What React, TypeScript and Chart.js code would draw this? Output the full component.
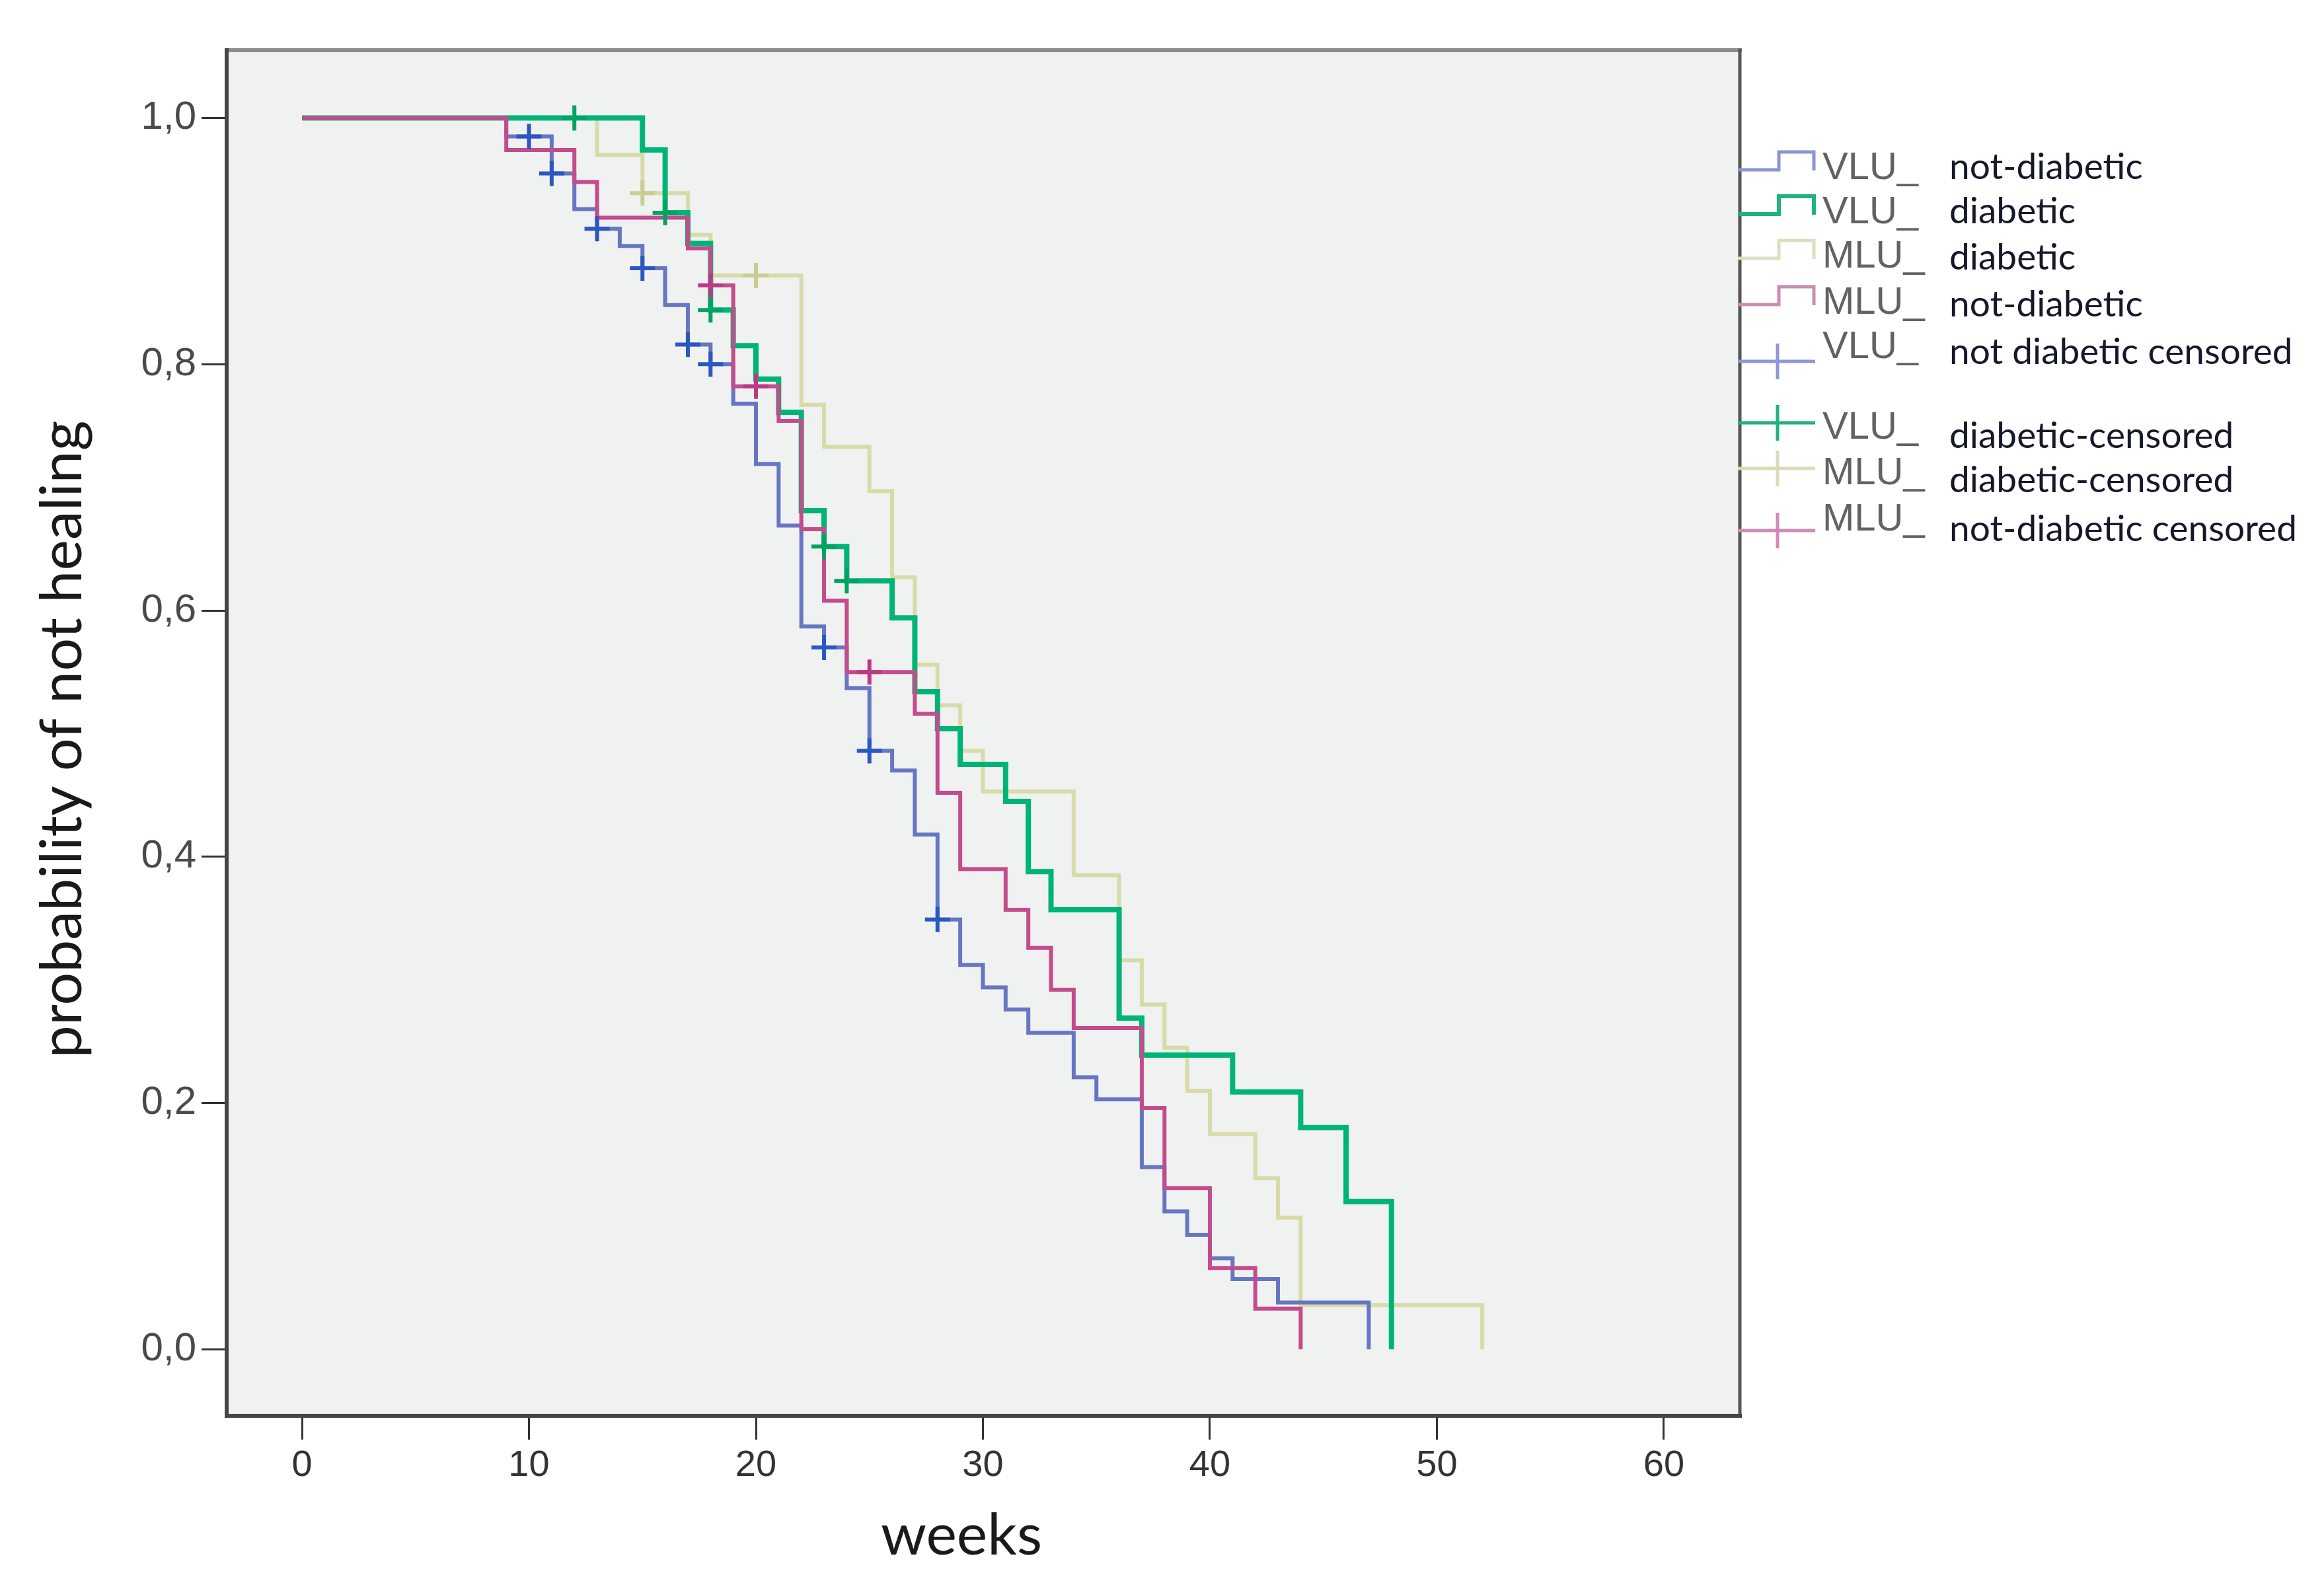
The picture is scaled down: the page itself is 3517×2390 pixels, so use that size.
import { useEffect, useRef } from "react";
import { Chart, registerables } from "chart.js";

Chart.register(...registerables);

// ---------- data ----------
const vluNotDiabeticWeeks = [0, 9, 11, 12, 13, 14, 15, 16, 17, 18, 19, 20, 21, 22, 23, 24, 25, 26, 27, 28, 29, 30, 31, 32, 34, 35, 37, 38, 39, 40, 41, 43, 47];
const vluNotDiabeticSurv = [1.0, 0.985, 0.955, 0.926, 0.91, 0.896, 0.878, 0.848, 0.816, 0.8, 0.768, 0.719, 0.669, 0.587, 0.57, 0.537, 0.486, 0.47, 0.418, 0.349, 0.312, 0.294, 0.276, 0.257, 0.221, 0.203, 0.148, 0.112, 0.093, 0.074, 0.057, 0.038, 0.0];
const vluNotDiabeticCensorWeeks = [10, 11, 13, 15, 17, 18, 23, 25, 28];
const vluNotDiabeticCensorSurv = [0.985, 0.955, 0.91, 0.878, 0.816, 0.8, 0.57, 0.486, 0.349];

const vluDiabeticWeeks = [0, 15, 16, 17, 18, 19, 20, 21, 22, 23, 24, 26, 27, 28, 29, 31, 32, 33, 36, 37, 41, 44, 46, 48];
const vluDiabeticSurv = [1.0, 0.974, 0.923, 0.898, 0.844, 0.815, 0.788, 0.761, 0.681, 0.652, 0.624, 0.594, 0.534, 0.504, 0.475, 0.445, 0.388, 0.357, 0.269, 0.239, 0.209, 0.18, 0.12, 0.0];
const vluDiabeticCensorWeeks = [12, 16, 18, 23, 24];
const vluDiabeticCensorSurv = [1.0, 0.923, 0.844, 0.652, 0.624];

const mluDiabeticWeeks = [0, 13, 15, 17, 18, 22, 23, 25, 26, 27, 28, 29, 30, 34, 36, 37, 38, 39, 40, 42, 43, 44, 52];
const mluDiabeticSurv = [1.0, 0.97, 0.939, 0.905, 0.872, 0.767, 0.733, 0.697, 0.627, 0.556, 0.523, 0.486, 0.453, 0.385, 0.316, 0.28, 0.245, 0.21, 0.175, 0.139, 0.107, 0.036, 0.0];
const mluDiabeticCensorWeeks = [15, 20];
const mluDiabeticCensorSurv = [0.939, 0.872];

const mluNotDiabeticWeeks = [0, 9, 12, 13, 17, 18, 19, 21, 22, 23, 24, 27, 28, 29, 31, 32, 33, 34, 37, 38, 40, 42, 44];
const mluNotDiabeticSurv = [1.0, 0.974, 0.948, 0.919, 0.894, 0.864, 0.782, 0.754, 0.666, 0.608, 0.55, 0.516, 0.452, 0.39, 0.357, 0.326, 0.292, 0.261, 0.196, 0.131, 0.066, 0.033, 0.0];
const mluNotDiabeticCensorWeeks = [18, 20, 25];
const mluNotDiabeticCensorSurv = [0.864, 0.782, 0.55];

const xTickValues = [0, 10, 20, 30, 40, 50, 60];
const yTickValues = [0, 0.2, 0.4, 0.6, 0.8, 1.0];

const legendGroups = ["VLU_", "VLU_", "MLU_", "MLU_", "VLU_", "VLU_", "MLU_", "MLU_"];
const legendLabels = ["not-diabetic", "diabetic", "diabetic", "not-diabetic", "not diabetic censored", "diabetic-censored", "diabetic-censored", "not-diabetic censored"];

const xTitle = "weeks";
const yTitle = "probability of not healing";

// ---------- styles ----------
const W = 3501;
const H = 2374;
const BLUE = "#6676c2";
const GREEN = "#00b377";
const KHAKI = "#d8dba8";
const MAGENTA = "#c24c8c";
const legendSymbolColors = ["#8b93d0", "#1fb47e", "#dcdfbf", "#c98db0", "#8e96d6", "#23b07c", "#ded9b6", "#d28ab6"];

const pts = (xs: number[], ys: number[]) => xs.map((x, i) => ({ x, y: ys[i] }));

const lineDs = (label: string, xs: number[], ys: number[], color: string, width: number) => ({
  type: "line" as const,
  label,
  data: pts(xs, ys),
  borderColor: color,
  borderWidth: width,
  stepped: "before" as const,
  pointRadius: 0,
  pointHoverRadius: 0,
  fill: false,
  borderJoinStyle: "miter" as const,
  borderCapStyle: "butt" as const,
  tension: 0,
});

const censorDs = (label: string, xs: number[], ys: number[], color: string) => ({
  type: "scatter" as const,
  label,
  data: pts(xs, ys),
  pointStyle: "cross",
  pointRadius: 19,
  pointHoverRadius: 19,
  borderColor: color,
  backgroundColor: color,
  pointBorderWidth: 6,
  borderWidth: 6,
  showLine: false,
});

export default function App() {
  const ref = useRef<HTMLCanvasElement>(null);

  useEffect(() => {
    if (!ref.current) return;

    const framePlugin = {
      id: "frame",
      beforeDraw(chart: any) {
        const { ctx, chartArea: a } = chart;
        ctx.save();
        ctx.fillStyle = "#f0f1f1";
        ctx.fillRect(a.left, a.top, a.right - a.left, a.bottom - a.top);
        ctx.restore();
      },
      afterDatasetsDraw(chart: any) {
        const { ctx, chartArea: a } = chart;
        ctx.save();
        ctx.lineCap = "square";
        ctx.strokeStyle = "#8c8c8c";
        ctx.lineWidth = 6;
        ctx.beginPath();
        ctx.moveTo(a.left, a.top);
        ctx.lineTo(a.right, a.top);
        ctx.stroke();
        ctx.strokeStyle = "#555555";
        ctx.lineWidth = 5;
        ctx.beginPath();
        ctx.moveTo(a.right, a.top);
        ctx.lineTo(a.right, a.bottom);
        ctx.stroke();
        ctx.strokeStyle = "#454545";
        ctx.lineWidth = 6;
        ctx.beginPath();
        ctx.moveTo(a.left, a.top);
        ctx.lineTo(a.left, a.bottom);
        ctx.lineTo(a.right, a.bottom);
        ctx.stroke();
        ctx.restore();
      },
      afterDraw(chart: any) {
        const { ctx, chartArea: a } = chart;
        ctx.save();
        // axis titles
        ctx.fillStyle = "#1a1a1a";
        ctx.font = "88px Lato";
        ctx.textAlign = "center";
        ctx.textBaseline = "alphabetic";
        ctx.fillText(xTitle, a.left + 1112, a.bottom + 210);
        ctx.save();
        ctx.translate(115, a.top + 1043);
        ctx.rotate(-Math.PI / 2);
        ctx.fillText(yTitle, 0, 0);
        ctx.restore();

        // legend
        const sx0 = a.right - 3;
        const sx1 = a.right + 114;
        const labelBase = [263, 330, 397, 467, 534, 656, 725, 795];
        const textBase = [263, 330, 400, 471, 543, 670, 737, 811];
        const crossY = [0, 0, 0, 0, 539, 632, 701, 795];
        for (let i = 0; i < legendLabels.length; i++) {
          const c = legendSymbolColors[i];
          ctx.strokeStyle = c;
          ctx.lineCap = "butt";
          ctx.lineJoin = "miter";
          if (i < 4) {
            const lb = labelBase[i];
            ctx.lineWidth = i === 1 ? 6 : 5;
            ctx.beginPath();
            ctx.moveTo(sx0, lb - 14);
            ctx.lineTo(a.right + 59, lb - 14);
            ctx.lineTo(a.right + 59, lb - 41);
            ctx.lineTo(a.right + 112, lb - 41);
            ctx.lineTo(a.right + 112, lb - 13);
            ctx.stroke();
          } else {
            const cy = crossY[i];
            ctx.lineWidth = 5;
            ctx.beginPath();
            ctx.moveTo(sx0, cy);
            ctx.lineTo(sx1, cy);
            ctx.moveTo(a.right + 57, cy - 27);
            ctx.lineTo(a.right + 57, cy + 27);
            ctx.stroke();
          }
          ctx.textAlign = "left";
          ctx.fillStyle = "#626262";
          ctx.font = "58px 'Liberation Sans'";
          ctx.fillText(legendGroups[i], a.right + 125, labelBase[i]);
          ctx.fillStyle = "#15192a";
          ctx.font = "55px Lato";
          ctx.fillText(legendLabels[i], a.right + 317, textBase[i]);
        }
        ctx.restore();
      },
    };

    const chart = new Chart(ref.current, {
      type: "line",
      data: {
        datasets: [
          censorDs("VLU_ diabetic-censored", vluDiabeticCensorWeeks, vluDiabeticCensorSurv, "#00a362"),
          censorDs("VLU_ not diabetic censored", vluNotDiabeticCensorWeeks, vluNotDiabeticCensorSurv, "#2a58c0"),
          censorDs("MLU_ not-diabetic censored", mluNotDiabeticCensorWeeks, mluNotDiabeticCensorSurv, "#be3886"),
          censorDs("MLU_ diabetic-censored", mluDiabeticCensorWeeks, mluDiabeticCensorSurv, "#cacc92"),
          lineDs("MLU_ not-diabetic", mluNotDiabeticWeeks, mluNotDiabeticSurv, MAGENTA, 6),
          lineDs("VLU_ diabetic", vluDiabeticWeeks, vluDiabeticSurv, GREEN, 8),
          lineDs("VLU_ not-diabetic", vluNotDiabeticWeeks, vluNotDiabeticSurv, BLUE, 6),
          lineDs("MLU_ diabetic", mluDiabeticWeeks, mluDiabeticSurv, KHAKI, 6),
        ] as any,
      },
      options: {
        responsive: false,
        animation: false,
        devicePixelRatio: 1,
        layout: { padding: { top: 68, right: W - 2625, bottom: 0, left: 0 } },
        plugins: {
          legend: { display: false },
          tooltip: { enabled: false },
          title: { display: false },
        },
        events: [],
        scales: {
          x: {
            type: "linear",
            min: -3.32,
            max: 63.35,
            afterBuildTicks: (s: any) => {
              s.ticks = xTickValues.map((v) => ({ value: v }));
            },
            afterFit: (s: any) => {
              s.height = H - 2135;
            },
            grid: { drawOnChartArea: false, drawTicks: true, tickLength: 36, tickColor: "#333333", tickWidth: 3, color: "#333333", lineWidth: 3 },
            border: { display: false },
            ticks: { font: { family: "'Liberation Sans'", size: 56 }, color: "#333333", padding: 6, maxRotation: 0, autoSkip: false },
          },
          y: {
            type: "linear",
            min: -0.054,
            max: 1.055,
            afterBuildTicks: (s: any) => {
              s.ticks = yTickValues.map((v) => ({ value: v }));
            },
            afterFit: (s: any) => {
              s.width = 335;
            },
            grid: { drawOnChartArea: false, drawTicks: true, tickLength: 38, tickColor: "#333333", tickWidth: 3, color: "#333333", lineWidth: 3 },
            border: { display: false },
            ticks: {
              font: { family: "'Liberation Sans'", size: 60 },
              color: "#4a4a4a",
              padding: 8,
              autoSkip: false,
              callback: (v: any) => Number(v).toFixed(1).replace(".", ","),
            },
          },
        },
      } as any,
      plugins: [framePlugin],
    });

    return () => chart.destroy();
  }, []);

  return (
    <div style={{ width: W, height: H }}>
      <canvas ref={ref} width={W} height={H} style={{ display: "block", width: W, height: H }} />
    </div>
  );
}
